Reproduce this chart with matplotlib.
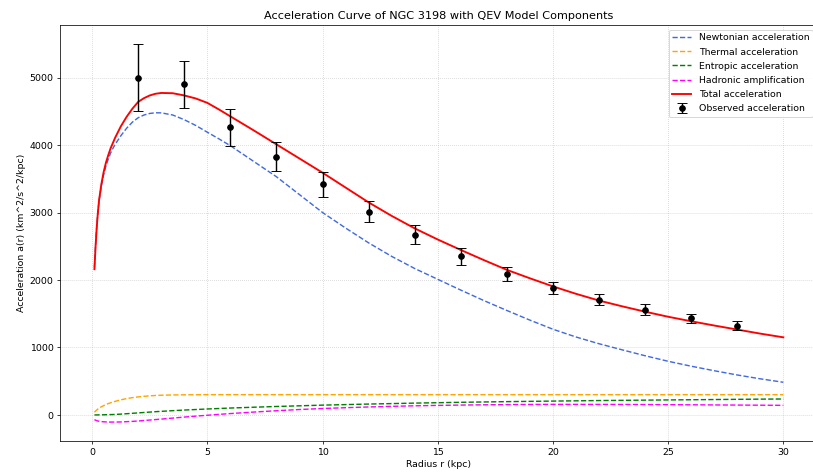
import matplotlib
matplotlib.use("Agg")
import matplotlib.pyplot as plt
import numpy as np

# radius grid for the model curves (kpc)
r_model = [0.1, 0.15, 0.2, 0.25, 0.3, 0.4, 0.5, 0.6, 0.7, 0.8, 0.9, 1.0, 1.25, 1.5, 1.75,
           2.0, 2.25, 2.5, 2.75, 3.0, 3.5, 4.0, 4.5, 5.0, 5.5, 6.0, 7.0, 8.0, 9.0, 10.0,
           11.0, 12.0, 13.0, 14.0, 15.0, 16.0, 17.0, 18.0, 19.0, 20.0, 21.0, 22.0, 23.0,
           24.0, 25.0, 26.0, 27.0, 28.0, 29.0, 30.0]

a_newton = [2190, 2520, 2790, 3000, 3170, 3390, 3560, 3690, 3790, 3880, 3950, 4010, 4140,
            4250, 4340, 4405, 4445, 4468, 4478, 4477, 4445, 4375, 4290, 4190, 4092, 3990,
            3760, 3530, 3265, 3000, 2770, 2550, 2350, 2170, 2010, 1850, 1695, 1548, 1405,
            1270, 1155, 1055, 965, 877, 795, 722, 655, 592, 535, 484]
a_thermal = [40, 58, 73, 87, 100, 120, 138, 154, 168, 180, 191, 201, 224, 242, 256, 267, 276,
             283, 288, 292, 296, 298, 299, 300, 300, 300, 300, 300, 300, 300, 300, 300, 300,
             300, 300, 300, 300, 300, 300, 300, 300, 300, 300, 300, 300, 300, 300, 300, 300,
             300]
a_entropic = [0, 0, 0, 0, 1, 1, 2, 3, 4, 5, 6, 7, 12, 18, 24, 30, 36, 42, 48, 53, 63, 72, 80,
              88, 95, 102, 114, 125, 135, 145, 153, 161, 168, 175, 181, 187, 192, 197, 201,
              205, 209, 213, 216, 219, 222, 225, 228, 231, 234, 236]
a_hadronic = [-70, -78, -85, -90, -94, -99, -102, -104, -106, -106, -106, -106, -104, -100,
              -96, -90, -83, -76, -69, -62, -47, -32, -18, -5, 8, 20, 42, 62, 80, 95, 107,
              118, 127, 135, 141, 146, 150, 153, 155, 156, 156, 156, 155, 154, 152, 150, 148,
              146, 144, 142]
a_total = [2160, 2500, 2780, 3000, 3180, 3420, 3600, 3740, 3850, 3950, 4030, 4110, 4280,
           4420, 4540, 4640, 4695, 4735, 4760, 4772, 4768, 4735, 4690, 4625, 4528, 4425,
           4220, 4010, 3800, 3590, 3370, 3150, 2950, 2765, 2600, 2445, 2295, 2150, 2025,
           1905, 1795, 1695, 1610, 1530, 1455, 1388, 1325, 1265, 1205, 1150]

# observed data
r_obs = [2, 4, 6, 8, 10, 12, 14, 16, 18, 20, 22, 24, 26, 28]
a_obs = [5000, 4900, 4260, 3830, 3420, 3010, 2670, 2350, 2090, 1880, 1710, 1560, 1430, 1320]
a_err = [500, 350, 270, 210, 185, 155, 138, 123, 108, 94, 86, 78, 72, 66]

fig = plt.figure(figsize=(12, 6.96), dpi=67.83)
ax = fig.add_axes([0.0737, 0.0657, 0.931, 0.8813])

ax.plot(r_model, a_newton, '--', color='royalblue', label='Newtonian acceleration')
ax.plot(r_model, a_thermal, '--', color='orange', label='Thermal acceleration')
ax.plot(r_model, a_entropic, '--', color='green', label='Entropic acceleration')
ax.plot(r_model, a_hadronic, '--', color='magenta', label='Hadronic amplification')
ax.plot(r_model, a_total, '-', color='red', linewidth=2, label='Total acceleration')
ax.errorbar(r_obs, a_obs, yerr=a_err, fmt='ko', capsize=5, label='Observed acceleration')

ax.set_xlabel('Radius r (kpc)')
ax.set_ylabel('Acceleration a(r) (km^2/s^2/kpc)')
ax.set_title('Acceleration Curve of NGC 3198 with QEV Model Components')
ax.legend(loc='upper right', labelspacing=0.55)
ax.grid(True, linestyle=':', alpha=0.7)

fig.savefig('out.png', dpi=67.83)
